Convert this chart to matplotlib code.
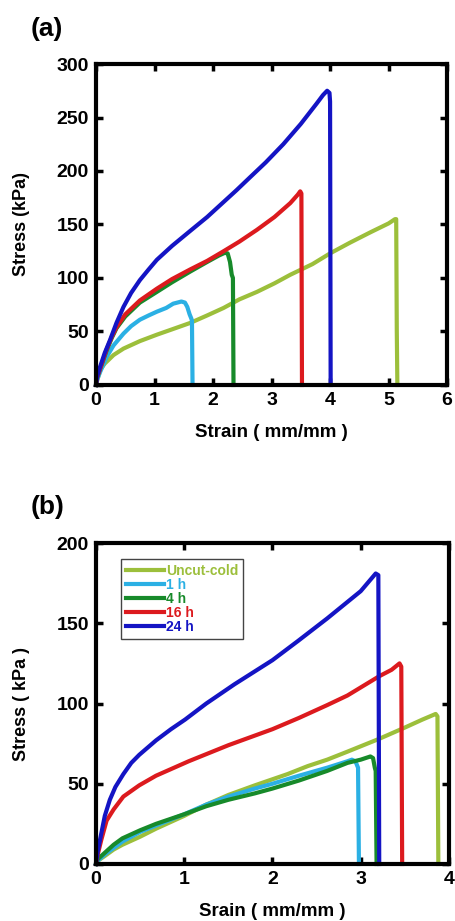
import matplotlib
matplotlib.use("Agg")
import matplotlib.pyplot as plt

plt.rcParams['font.family'] = ['Liberation Sans', 'DejaVu Sans']
plt.rcParams['font.weight'] = 'bold'

labels = ['Uncut-cold', '1 h', '4 h', '16 h', '24 h']
colors = ['#9cbf3b', '#2bb0e4', '#178a2a', '#dc1a1e', '#1414c4']

# panel (a) : strain (mm/mm) vs stress (kPa)
a_x_uncut = [0, 0.02, 0.07, 0.15, 0.3, 0.47, 0.75, 1.04, 1.3, 1.61, 1.9, 2.18, 2.45, 2.75,
             3.05, 3.32, 3.7, 4.0, 4.34, 4.7, 5.0, 5.11, 5.13, 5.14, 5.15]
a_y_uncut = [0, 4, 14, 20, 28, 34, 41, 47, 52, 58, 65, 72, 80, 87,
             95, 103, 113, 123, 133, 143, 151, 155, 155, 51, 0]
a_x_1h = [0, 0.02, 0.07, 0.18, 0.3, 0.47, 0.6, 0.75, 0.9, 1.04, 1.2, 1.32, 1.46, 1.52,
          1.56, 1.6, 1.63, 1.64, 1.65]
a_y_1h = [0, 5, 12, 26, 37, 48, 55, 61, 65, 68.5, 72, 76, 78, 77,
          73, 66, 62, 60, 0]
a_x_4h = [0, 0.02, 0.07, 0.18, 0.27, 0.35, 0.5, 0.75, 1.04, 1.3, 1.61, 1.9, 2.1, 2.2,
          2.25, 2.29, 2.32, 2.34, 2.35]
a_y_4h = [0, 7, 15, 32, 44, 53, 64, 77, 87, 96, 106, 115, 121, 123.5,
          123, 115, 103, 100, 0]
a_x_16h = [0, 0.02, 0.07, 0.18, 0.27, 0.35, 0.5, 0.75, 1.04, 1.3, 1.61, 1.9, 2.18, 2.45,
           2.75, 3.05, 3.32, 3.45, 3.49, 3.51, 3.52]
a_y_16h = [0, 7, 15, 33, 45, 54, 66, 79, 90, 99, 108, 116, 125, 134,
           145, 157, 170, 178, 181, 179, 0]
a_x_24h = [0, 0.02, 0.07, 0.15, 0.24, 0.35, 0.47, 0.6, 0.75, 0.9, 1.04, 1.3, 1.61, 1.9,
           2.18, 2.4, 2.63, 2.9, 3.2, 3.5, 3.77, 3.88, 3.95, 3.99, 4.0, 4.01]
a_y_24h = [0, 8, 17, 30, 42, 58, 73, 86, 98, 108, 117, 130, 144, 157,
           171, 182, 194, 208, 225, 244, 263, 271, 275, 273, 265, 0]

# panel (b)
b_x_uncut = [0, 0.02, 0.1, 0.2, 0.3, 0.5, 0.68, 1.0, 1.25, 1.5, 1.8, 2.17, 2.4, 2.62,
             2.85, 3.21, 3.5, 3.7, 3.85, 3.87, 3.88]
b_y_uncut = [0, 2, 5, 9, 12, 17, 22, 30, 37, 43, 49, 56, 61, 65,
             70, 78, 85, 90, 93.5, 92, 0]
b_x_1h = [0, 0.02, 0.1, 0.2, 0.3, 0.5, 0.68, 1.0, 1.25, 1.5, 1.8, 2.0, 2.3, 2.62,
          2.85, 2.9, 2.94, 2.97, 2.98]
b_y_1h = [0, 2, 6, 10, 14, 20, 24, 31, 37, 42, 47, 50, 55, 60,
          64, 65, 64, 60, 0]
b_x_4h = [0, 0.02, 0.1, 0.2, 0.3, 0.5, 0.68, 1.0, 1.25, 1.5, 1.8, 2.0, 2.3, 2.62,
          2.85, 3.0, 3.11, 3.14, 3.16, 3.17, 3.18]
b_y_4h = [0, 3, 7, 12, 16, 21, 25, 31, 36, 40, 44, 47, 52, 58,
          63, 65, 67, 66, 60, 58, 0]
b_x_16h = [0, 0.02, 0.06, 0.12, 0.2, 0.31, 0.49, 0.68, 1.05, 1.5, 2.0, 2.3, 2.62, 2.85,
           3.21, 3.35, 3.44, 3.46, 3.47]
b_y_16h = [0, 6, 15, 27, 34, 42, 49, 55, 64, 74, 84, 91, 99, 105,
           117, 121, 125, 123, 0]
b_x_24h = [0, 0.02, 0.06, 0.1, 0.157, 0.22, 0.31, 0.4, 0.49, 0.68, 0.85, 1.01, 1.25, 1.57,
           2.0, 2.29, 2.62, 3.0, 3.17, 3.2, 3.21]
b_y_24h = [0, 8, 19, 30, 40, 48, 56, 63, 68, 77, 84, 90, 100, 112,
           127, 139, 153, 170, 181, 180, 0]

a_series = [(a_x_uncut, a_y_uncut), (a_x_1h, a_y_1h), (a_x_4h, a_y_4h),
            (a_x_16h, a_y_16h), (a_x_24h, a_y_24h)]
b_series = [(b_x_uncut, b_y_uncut), (b_x_1h, b_y_1h), (b_x_4h, b_y_4h),
            (b_x_16h, b_y_16h), (b_x_24h, b_y_24h)]

fig = plt.figure(figsize=(4.56, 9.21), dpi=100)


def style(ax, xmax, ymax, xlabel, ylabel, labx):
    ax.set_xlim(0, xmax)
    ax.set_ylim(0, ymax)
    ax.set_xticks(range(0, xmax + 1))
    ax.set_yticks(range(0, ymax + 1, 50))
    for s in ax.spines.values():
        s.set_linewidth(3)
    ax.tick_params(direction='in', length=5, width=2.5, top=True, right=True,
                   labelsize=14, pad=5)
    ax.set_xlabel(xlabel, fontsize=13.5, fontweight='bold', labelpad=11)
    ax.set_ylabel(ylabel, fontsize=13, fontweight='bold')
    ax.yaxis.set_label_coords(labx, 0.5)


ax1 = fig.add_axes([0.2105, 0.582, 0.770, 0.3485])
for (x, y), c in zip(a_series, colors):
    ax1.plot(x, y, color=c, lw=3, solid_joinstyle='round', clip_on=False)
style(ax1, 6, 300, 'Strain ( mm/mm )', 'Stress (kPa)', -0.189)
fig.text(0.068, 0.961, '(a)', fontsize=19, fontweight='bold')

ax2 = fig.add_axes([0.2105, 0.0619, 0.774, 0.3485])
for (x, y), c, lab in zip(b_series, colors, labels):
    ax2.plot(x, y, color=c, lw=3, label=lab, solid_joinstyle='round', clip_on=False)
style(ax2, 4, 200, 'Srain ( mm/mm )', 'Stress ( kPa )', -0.188)
fig.text(0.068, 0.442, '(b)', fontsize=19, fontweight='bold')

leg = ax2.legend(loc='upper left', bbox_to_anchor=(0.07, 0.95), borderaxespad=0,
                 fontsize=10, handlelength=2.8, handletextpad=0.1,
                 labelspacing=0.0, borderpad=0.35, fancybox=False,
                 edgecolor='#444444', framealpha=1)
leg.get_frame().set_linewidth(1)
for t, c in zip(leg.get_texts(), colors):
    t.set_color(c)
    t.set_fontweight('bold')

fig.savefig('out.png', dpi=100)
